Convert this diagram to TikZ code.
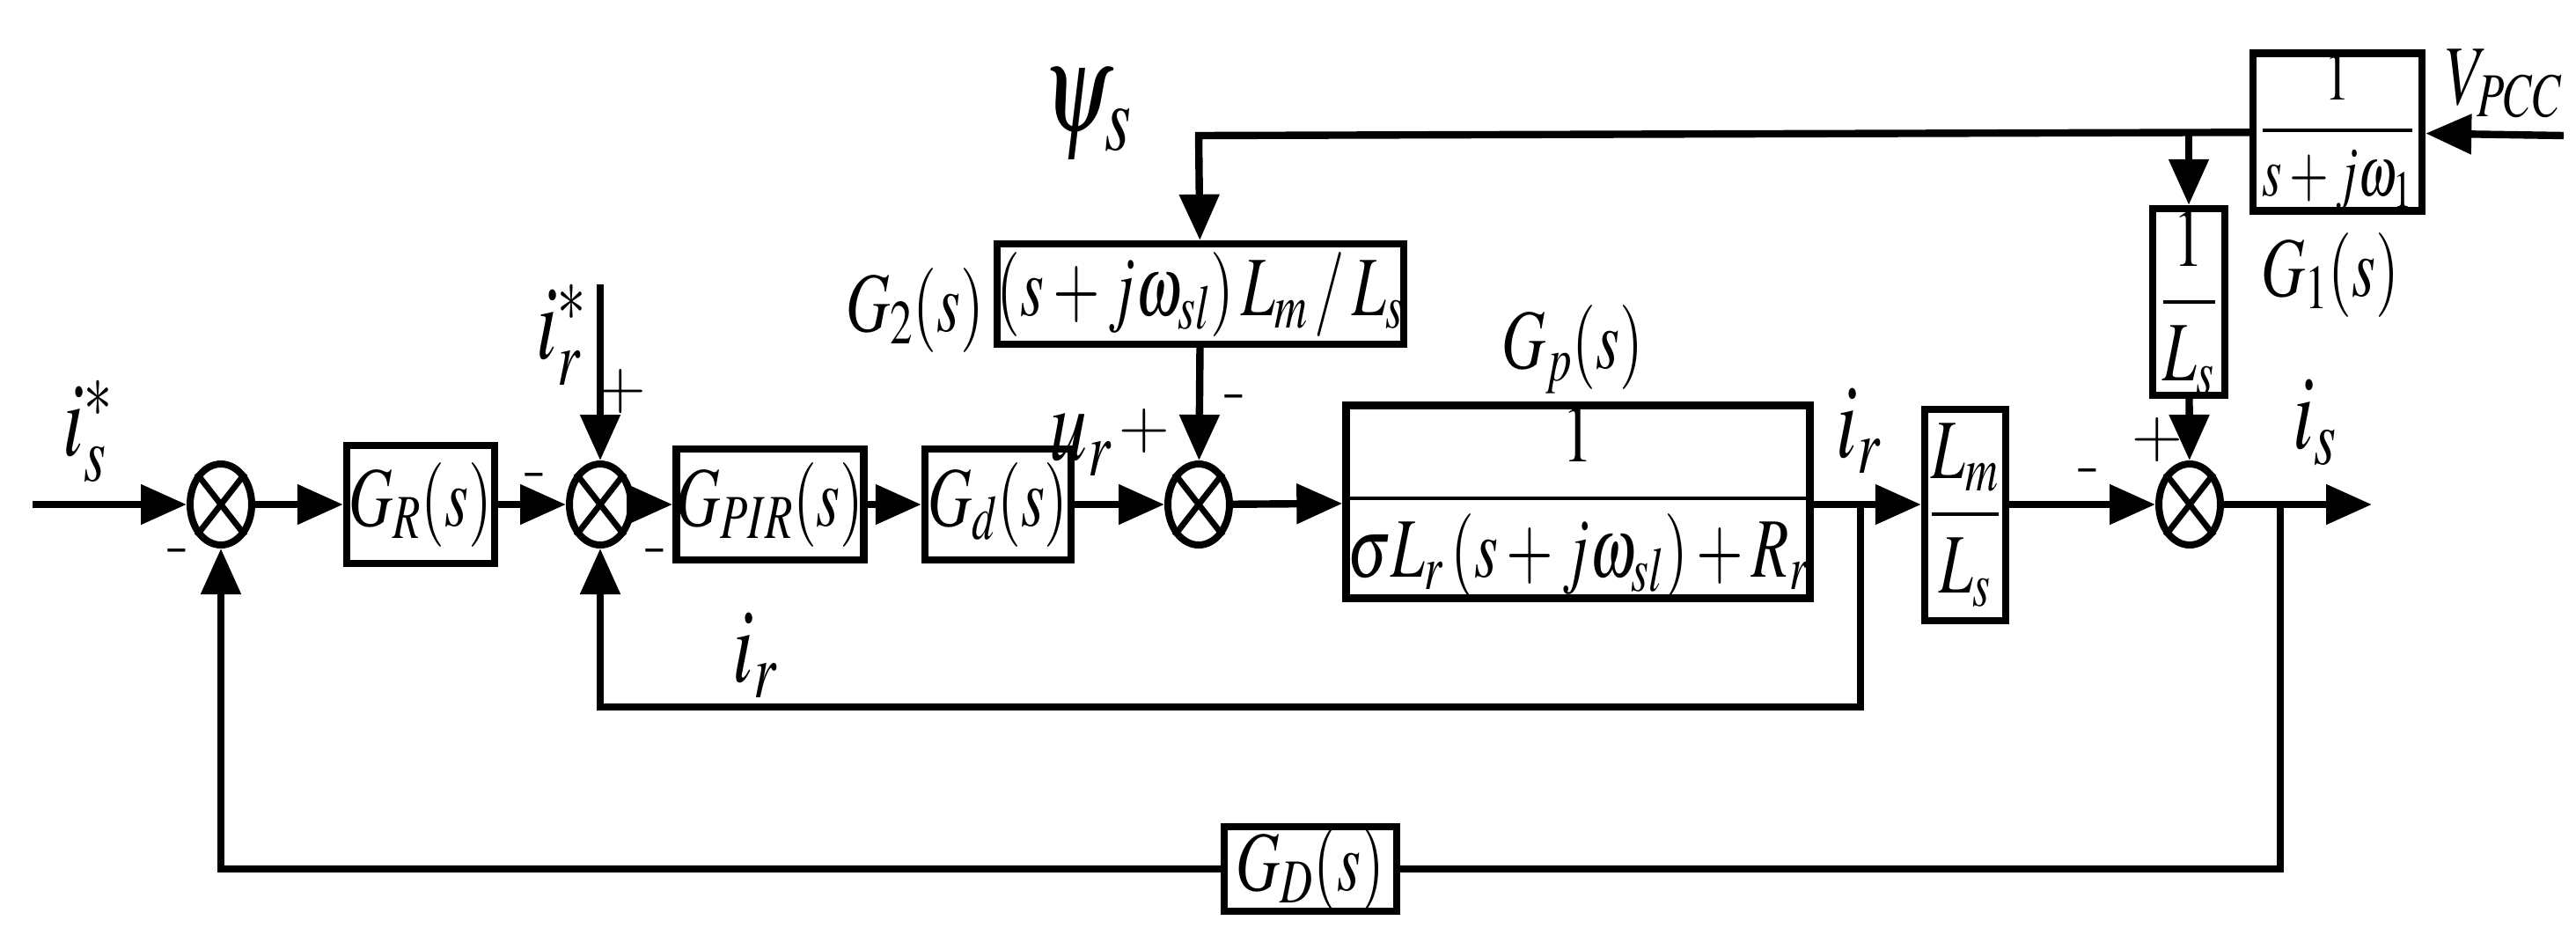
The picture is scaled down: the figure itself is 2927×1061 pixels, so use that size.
\documentclass[tikz,border=0pt]{standalone}
\usepackage{amsmath}
\usepackage{graphicx}
\usepackage{mathptmx}
\usetikzlibrary{shapes.geometric,arrows.meta}
\newcommand{\cz}[1]{\scalebox{0.72}[1]{#1}}
\begin{document}
\begin{tikzpicture}[x=0.5pt,y=-0.5pt,line width=4.2pt,
  >={Triangle[length=26pt,width=22pt]},
  blk/.style={draw,rectangle,inner sep=0pt,font=\fontsize{48}{54}\selectfont},
  sum/.style={draw,ellipse,minimum width=35pt,minimum height=46pt,inner sep=0pt,line width=4pt},
  lbl/.style={font=\fontsize{48}{54}\selectfont},
  big/.style={font=\fontsize{60}{66}\selectfont},
  sgn/.style={font=\fontsize{40}{44}\selectfont\bfseries}]
\useasboundingbox (0,0) rectangle (2927,1061);
\newcommand{\xsum}[1]{\draw[line width=3.4pt] (#1.north west)--(#1.south east) (#1.north east)--(#1.south west);}
\coordinate (in) at (37,573);
\node[sum] (s1) at (251,573) {}; \xsum{s1}
\node[blk,minimum width=84pt,minimum height=67pt] (GR) at (478,573) {\cz{$G_R(s)$}};
\node[sum] (s2) at (682,573) {}; \xsum{s2}
\node[blk,minimum width=96pt,minimum height=63pt] (GPIR) at (875,573) {\cz{$G_{PIR}(s)$}};
\node[blk,minimum width=83pt,minimum height=63pt] (Gd) at (1134,573) {\cz{$G_d(s)$}};
\node[sum] (s3) at (1362,573) {}; \xsum{s3}
\node[blk,minimum width=244pt,minimum height=106pt] (Gp) at (1793,570) {\cz{$\dfrac{1}{\sigma L_r\left(s+j\omega_{sl}\right)+R_r}$}};
\coordinate (tir) at (2114,573);
\node[blk,minimum width=46pt,minimum height=120pt] (LL) at (2233,585) {\cz{$\dfrac{L_m}{L_s}$}};
\node[sum] (s4) at (2488,573) {}; \xsum{s4}
\coordinate (tis) at (2591,573);
\coordinate (out) at (2695,573);
\node[blk,minimum width=220pt,minimum height=57pt] (G2) at (1364,334) {\cz{$\left(s+j\omega_{sl}\right)L_m\,/\,L_s$}};
\node[blk,minimum width=41pt,minimum height=106pt] (OL) at (2487,343) {\cz{$\dfrac{1}{L_s}$}};
\node[blk,minimum width=96pt,minimum height=88pt,font=\fontsize{40}{44}\selectfont] (G1) at (2656,150) {\cz{$\dfrac{1}{s+j\omega_1}$}};
\coordinate (vp) at (2913,154);
\node[blk,minimum width=98pt,minimum height=46pt] (GD) at (1489,987) {\cz{$G_D(s)$}};
\coordinate (top) at (1362,154);
\coordinate (br) at (2487,154);
\coordinate (irs) at (682,323);
\coordinate (fb1) at (2114,803);
\coordinate (fb2) at (682,803);
\coordinate (gd1) at (2591,987);
\coordinate (gd2) at (251,987);

\draw[->] (in) -- (s1);
\draw[->] (s1) -- (GR);
\draw[->] (GR) -- (s2);
\draw[->] (s2) -- (GPIR);
\draw[->] (GPIR) -- (Gd);
\draw[->] (Gd) -- (s3);
\draw[->] (s3) -- (Gp);
\draw[->] (Gp.east|-s4) -- (LL.west|-s4);
\draw[->] (LL.east|-s4) -- (s4);
\draw[->] (s4) -- (out);
\draw[->] (irs) -- (s2);
\draw[->] (vp) -- (G1);
\draw[->] (G1) -- (top) -- (G2);
\draw[->] (br) -- (OL);
\draw[->] (G2) -- (s3);
\draw[->] (OL) -- (s4);
\draw[->] (tir) -- (fb1) -- (fb2) -- (s2);
\draw (tis) -- (gd1) -- (GD);
\draw[->] (GD) -- (gd2) -- (s1);

\node[big] (l1) at (100,490) {\cz{$i_s^{*}$}};
\node[big] (l2) at (638,380) {\cz{$i_r^{*}$}};
\node[big] (l3) at (858,745) {\cz{$i_r$}};
\node[big] (l4) at (1228,505) {\cz{$u_r$}};
\node[lbl] (l5) at (1040,352) {\cz{$G_2(s)$}};
\node[big] (l6) at (2112,490) {\cz{$i_r$}};
\node[big] (l7) at (2630,480) {\cz{$i_s$}};
\node[lbl] (l8) at (2648,312) {\cz{$G_1(s)$}};
\node[lbl] (l9) at (1787,397) {\cz{$G_p(s)$}};
\node[lbl] (l10) at (2845,95) {\cz{$V_{PCC}$}};
\node[font=\fontsize{72}{76}\selectfont] (l11) at (1235,130) {\cz{$\psi_s$}};
\node[sgn] (m1) at (203,633) {-};
\node[sgn] (m2) at (609,547) {-};
\node[sgn] (m3) at (746,633) {-};
\node[sgn] (p1) at (705,445) {+};
\node[sgn] (p2) at (1300,490) {+};
\node[sgn] (m4) at (1404,458) {-};
\node[sgn] (m5) at (2374,542) {-};
\node[sgn] (p3) at (2451,500) {+};
\end{tikzpicture}
\end{document}
